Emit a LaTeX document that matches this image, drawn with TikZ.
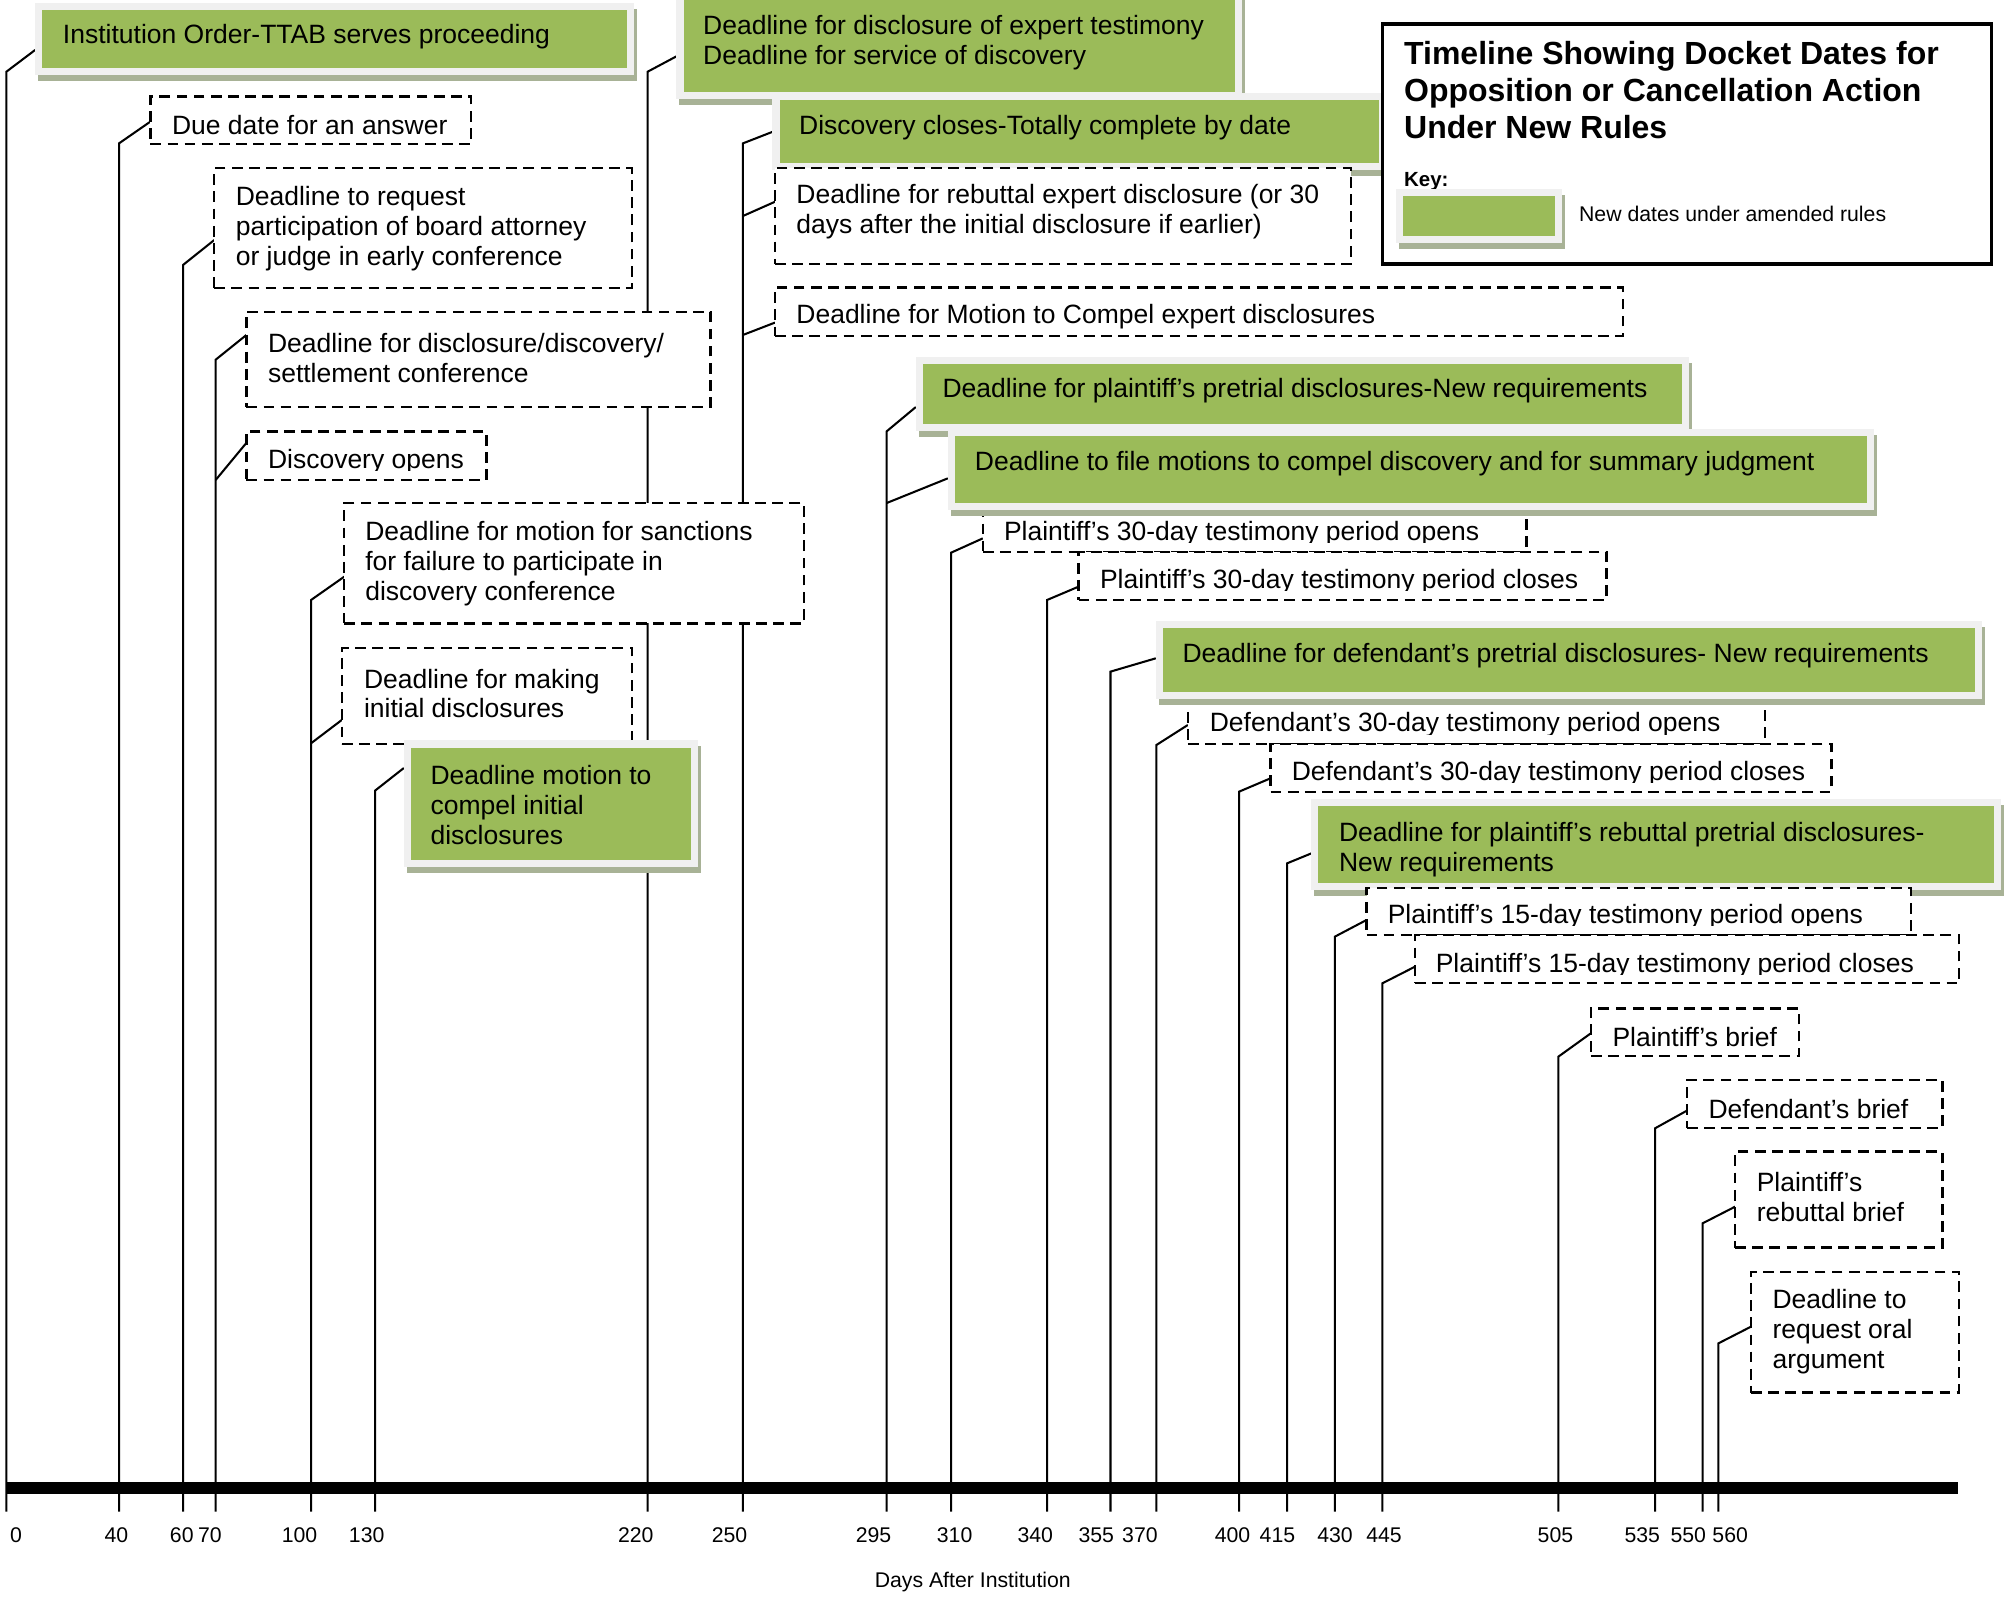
\documentclass[tikz,border=0pt]{standalone}
\usepackage{fontspec}
\setmainfont{Liberation Sans}
\usetikzlibrary{backgrounds}
\definecolor{kgreen}{RGB}{155,187,89}
\definecolor{kframe}{RGB}{240,240,240}
\definecolor{kshadow}{RGB}{168,178,150}
% green box: name, x1, y1, x2, y2 of the green fill
\newcommand{\mkgreen}[5]{%
  \fill[kshadow] ({#2-3.3},{#3-0.8}) rectangle ({#4+7.7},{#5+10.2});
  \node[gframe, anchor=north west, minimum width={(#4-#2+11)*0.5pt}, minimum height={(#5-#3+11)*0.5pt}] (#1) at ({#2-5.5},{#3-5.5}) {};
  \fill[kgreen] (#2,#3) rectangle (#4,#5);
}
% dashed box: name, x1, y1, x2, y2
\newcommand{\mkdash}[5]{%
  \node[dashbox, anchor=north west, minimum width={(#4-#2)*0.5pt}, minimum height={(#5-#3)*0.5pt}] (#1) at (#2,#3) {};
}
\begin{document}
\begin{tikzpicture}[x=0.5pt,y=-0.5pt,
  gframe/.style={fill=kframe, draw=none, inner sep=0pt, outer sep=0pt},
  dashbox/.style={draw=black, fill=white, line width=0.9pt, dash pattern=on 4.2pt off 2.5pt, inner sep=0pt, outer sep=0pt},
  keyframe/.style={draw=black, fill=white, line width=1.2pt, inner sep=0pt, outer sep=0pt},
  txt/.style={font=\fontsize{10.35pt}{11.7pt}\selectfont, inner sep=0pt, anchor=west, align=left, yshift=-0.75pt},
  ttl/.style={font=\fontsize{12.5pt}{14.3pt}\selectfont\bfseries, inner sep=0pt, anchor=west, align=left},
  small/.style={font=\fontsize{8.3pt}{10pt}\selectfont, inner sep=0pt},
  conn/.style={draw=black, line width=0.8pt}]
\useasboundingbox (0,0) rectangle (1568,1249);
\clip (0,0) rectangle (1568,1249);

% ---------- boxes ----------
\mkgreen{boxA}{33}{8}{490}{53.4}
\node[txt] (tA) at (48.8,27.3) {Institution Order-TTAB serves proceeding};

\mkdash{boxB}{117.5}{75.5}{368}{112.5}
\node[txt] (tB) at (134,96) {Due date for an answer};

\mkdash{boxC}{167.4}{131.5}{493.5}{225}
\node[txt] (tC) at (183.8,177) {Deadline to request\\participation of board attorney\\or judge in early conference};

\mkdash{boxD}{192.5}{243.5}{555}{318}
\node[txt] (tD) at (209,278.5) {Deadline for disclosure/discovery/\\settlement conference};

\mkdash{boxE}{192.5}{337}{380}{375}
\begin{scope}
\clip (192.5,337) rectangle (380,367.5);
\node[txt] (tE) at (209,359) {Discovery opens};
\end{scope}

\mkdash{boxF}{269}{393.2}{628}{487}
\node[txt] (tF) at (285,438.8) {Deadline for motion for sanctions\\for failure to participate in\\discovery conference};

\mkdash{boxG}{267}{506}{493.5}{581}
\node[txt] (tG) at (284,540.3) {Deadline for making\\initial disclosures};

\mkgreen{boxH}{321}{584}{540}{672}
\node[txt] (tH) at (336,627.7) {Deadline motion to\\compel initial\\disclosures};

\mkgreen{boxI}{534}{-2}{964.7}{71.6}
\node[txt] (tI) at (549,31.9) {Deadline for disclosure of expert testimony\\Deadline for service of discovery};

\mkgreen{boxJ}{609}{78}{1077}{127.6}
\node[txt] (tJ) at (624,98.4) {Discovery closes-Totally complete by date};

\mkdash{boxK}{605.5}{131.5}{1055.5}{206}
\node[txt] (tK) at (621.8,164) {Deadline for rebuttal expert disclosure (or 30\\days after the initial disclosure if earlier)};

\mkdash{boxL}{605.5}{224.5}{1268}{262.5}
\node[txt] (tL) at (621.8,246) {Deadline for Motion to Compel expert disclosures};

\mkgreen{boxM}{721}{284.4}{1314}{331.25}
\node[txt] (tM) at (736,303.4) {Deadline for plaintiff’s pretrial disclosures-New requirements};

\mkdash{boxO}{767.8}{396}{1192.7}{431}
\begin{scope}
\clip (767.8,396) rectangle (1192.7,423.9);
\node[txt] (tO) at (784,415.4) {Plaintiff’s 30-day testimony period opens};
\end{scope}

\mkgreen{boxN}{746}{341}{1458.8}{393.2}
\node[txt] (tN) at (761.3,360.7) {Deadline to file motions to compel discovery and for summary judgment};

\mkdash{boxP}{842.7}{431}{1255}{468.75}
\begin{scope}
\clip (842.7,431) rectangle (1255,461.1);
\node[txt] (tP) at (859,452.6) {Plaintiff’s 30-day testimony period closes};
\end{scope}

\mkdash{boxR}{928}{544}{1379}{581.25}
\begin{scope}
\clip (928,544) rectangle (1379,573.5);
\node[txt] (tR) at (944.8,565) {Defendant’s 30-day testimony period opens};
\end{scope}

\mkgreen{boxQ}{908.5}{490.4}{1543.2}{540.4}
\node[txt] (tQ) at (923.5,511) {Deadline for defendant’s pretrial disclosures- New requirements};

\mkdash{boxS}{992.7}{581.25}{1430.8}{618.5}
\begin{scope}
\clip (992.7,581.25) rectangle (1430.8,611.4);
\node[txt] (tS) at (1008.8,602.9) {Defendant’s 30-day testimony period closes};
\end{scope}

\mkgreen{boxT}{1030}{629.7}{1557.6}{690}
\node[txt] (tT) at (1045.7,662.25) {Deadline for plaintiff’s rebuttal pretrial disclosures-\\New requirements};

\mkdash{boxU}{1067.6}{694}{1493}{730.5}
\begin{scope}
\clip (1067.6,694) rectangle (1493,723.3);
\node[txt] (tU) at (1083.8,714.8) {Plaintiff’s 15-day testimony period opens};
\end{scope}

\mkdash{boxV}{1105.5}{730.5}{1530.6}{768.2}
\begin{scope}
\clip (1105.5,730.5) rectangle (1530.6,761.1);
\node[txt] (tV) at (1121.3,752.6) {Plaintiff’s 15-day testimony period closes};
\end{scope}

\mkdash{boxW}{1242.8}{787.8}{1405.6}{825}
\node[txt] (tW) at (1259.4,808.6) {Plaintiff’s brief};

\mkdash{boxX}{1317.9}{843.75}{1517.6}{881}
\node[txt] (tX) at (1334.4,864.6) {Defendant’s brief};

\mkdash{boxY}{1355.6}{899.7}{1517.6}{974.7}
\node[txt] (tY) at (1372.1,933.35) {Plaintiff’s\\rebuttal brief};

\mkdash{boxZ}{1367.9}{993.5}{1530.6}{1088}
\node[txt] (tZ) at (1384.4,1038.5) {Deadline to\\request oral\\argument};

% ---------- key ----------
\node[keyframe, anchor=north west, minimum width={(1555.6-1080)*0.5pt}, minimum height={(206.25-18.75)*0.5pt}] (key) at (1080,18.75) {};
\node[ttl] (title) at (1096.6,70.3) {Timeline Showing Docket Dates for\\Opposition or Cancellation Action\\Under New Rules};
\node[small, anchor=west, font=\fontsize{8pt}{10pt}\selectfont\bfseries] (keylbl) at (1096.6,141.5) {Key:};
\mkgreen{keysample}{1096}{153}{1214.7}{184.4}
\node[small, anchor=west] (keytxt) at (1233.3,167.2) {New dates under amended rules};

% ---------- axis ----------
\node[fill=black, inner sep=0pt, outer sep=0pt, anchor=north west, minimum width={(1530-5)*0.5pt}, minimum height={9.6*0.5pt}] (axis) at (5,1157.6) {};

\foreach \d/\x/\lx in {0/5/12.5, 40/93/91, 60/143/142, 70/168.5/164, 100/243/234, 130/293/286.5,
  220/506/496.7, 250/580.4/570, 295/692.7/682.5, 310/743/745.8, 340/818/808.8, 355/867.6/856.5,
  370/903.5/890.6, 400/968/962.9, 415/1005.5/998, 430/1042.8/1043, 445/1080/1081.3,
  505/1217.5/1215.2, 535/1293/1283, 550/1330.2/1319, 560/1342.5/1351.7}{
  \coordinate (t\d) at (\x,1181);
  \node[small] (lab\d) at (\lx,1199.2) {\d};
}
\node[small] (axislabel) at (760,1235.7) {Days After Institution};

% bend points
\coordinate (b0) at (5,56);
\coordinate (b40) at (93,112);
\coordinate (b60) at (143,207);
\coordinate (b70a) at (168.5,281);
\coordinate (b70b) at (168.5,375);
\coordinate (b100a) at (243,468.75);
\coordinate (b100b) at (243,580.7);
\coordinate (b130) at (293,617.7);
\coordinate (b220) at (506,56);
\coordinate (b250a) at (580.4,112);
\coordinate (b250b) at (580.4,168.75);
\coordinate (b250c) at (580.4,261.7);
\coordinate (b295a) at (692.7,337);
\coordinate (b295b) at (692.7,393);
\coordinate (b310) at (743,431.8);
\coordinate (b340) at (818,468.75);
\coordinate (b355) at (867.6,524.7);
\coordinate (b370) at (903.5,582);
\coordinate (b400) at (968,618.5);
\coordinate (b415) at (1005.5,674.5);
\coordinate (b430) at (1042.8,731.8);
\coordinate (b445) at (1080,768.2);
\coordinate (b505) at (1217.5,825.5);
\coordinate (b535) at (1293,881.5);
\coordinate (b550) at (1330.2,955.7);
\coordinate (b560) at (1342.5,1049.5);

% ---------- connectors ----------
\begin{pgfonlayer}{background}
\draw[conn] (t0) -- (b0) -- (boxA.west |- 0,39);
\draw[conn] (t40) -- (b40) -- (boxB.west |- 0,95);
\draw[conn] (t60) -- (b60) -- (boxC.west |- 0,187.5);
\draw[conn] (t70) -- (b70a) -- (boxD.west |- 0,261.7);
\draw[conn] (b70b) -- (boxE.west |- 0,346);
\draw[conn] (t100) -- (b100a) -- (boxF.west |- 0,450.5);
\draw[conn] (b100b) -- (boxG.west |- 0,562.5);
\draw[conn] (t130) -- (b130) -- (boxH.west |- 0,600);
\draw[conn] (t220) -- (b220) -- (boxI.west |- 0,44);
\draw[conn] (t250) -- (b250a) -- (boxJ.west |- 0,103);
\draw[conn] (b250b) -- (boxK.west |- 0,157.6);
\draw[conn] (b250c) -- (boxL.west |- 0,252);
\draw[conn] (t295) -- (b295a) -- (boxM.west |- 0,318);
\draw[conn] (b295b) -- (boxN.west |- 0,373.7);
\draw[conn] (t310) -- (b310) -- (boxO.west |- 0,420.6);
\draw[conn] (t340) -- (b340) -- (boxP.west |- 0,458.3);
\draw[conn] (t355) -- (b355) -- (boxQ.west |- 0,514.3);
\draw[conn] (t370) -- (b370) -- (boxR.west |- 0,566.4);
\draw[conn] (t400) -- (b400) -- (boxS.west |- 0,608);
\draw[conn] (t415) -- (b415) -- (boxT.west |- 0,666.7);
\draw[conn] (t430) -- (b430) -- (boxU.west |- 0,718.75);
\draw[conn] (t445) -- (b445) -- (boxV.west |- 0,755.2);
\draw[conn] (t505) -- (b505) -- (boxW.west |- 0,807.3);
\draw[conn] (t535) -- (b535) -- (boxX.west |- 0,867.7);
\draw[conn] (t550) -- (b550) -- (boxY.west |- 0,942.7);
\draw[conn] (t560) -- (b560) -- (boxZ.west |- 0,1036.5);
\end{pgfonlayer}
\end{tikzpicture}
\end{document}
